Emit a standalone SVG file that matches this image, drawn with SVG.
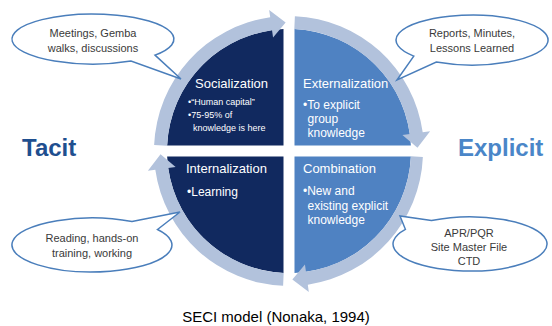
<svg xmlns="http://www.w3.org/2000/svg" width="552" height="326" viewBox="0 0 552 326">
<style>
  text { font-family: "Liberation Sans", Arial, sans-serif; }
  .dark { fill: #11295f; }
  .light { fill: #4f82c2; }
  .ring { fill: #b2c2dc; }
  .title { fill: #ffffff; font-size: 13px; }
  .body { fill: #ffffff; font-size: 12px; }
  .small { fill: #ffffff; font-size: 9px; }
  .callout { fill: #ffffff; stroke: #4a7ebb; stroke-width: 1.5; stroke-linejoin: miter; }
  .ctext { fill: #3a3a3a; font-size: 11px; text-anchor: middle; }
  .side { font-size: 24px; font-weight: bold; }
</style>
<rect width="552" height="326" fill="#ffffff"/>

<g id="socialization">
  <path class="dark" d="M283.5 145.5 L283.5 29.124 A122 122 0 0 0 167.124 145.5 Z"/>
  <text class="title" x="195" y="88">Socialization</text>
  <text class="small" x="188" y="105">•“Human capital”</text>
  <text class="small" x="188" y="118">•75-95% of</text>
  <text class="small" x="193" y="131">knowledge is here</text>
</g>

<g id="externalization">
  <path class="light" d="M294.5 145.5 L410.876 145.5 A122 122 0 0 0 294.5 29.124 Z"/>
  <text class="title" x="303" y="88">Externalization</text>
  <text class="body" x="303" y="109">•To explicit</text>
  <text class="body" x="307.5" y="123">group</text>
  <text class="body" x="307.5" y="137">knowledge</text>
</g>

<g id="combination">
  <path class="light" d="M294.5 156.5 L294.5 272.876 A122 122 0 0 0 410.876 156.5 Z"/>
  <text class="title" x="303" y="173">Combination</text>
  <text class="body" x="303" y="195">•New and</text>
  <text class="body" x="307.5" y="210">existing explicit</text>
  <text class="body" x="307.5" y="224">knowledge</text>
</g>

<g id="internalization">
  <path class="dark" d="M283.5 156.5 L167.124 156.5 A122 122 0 0 0 283.5 272.876 Z"/>
  <text class="title" x="186" y="173">Internalization</text>
  <text class="body" x="187" y="196">•Learning</text>
</g>

<g id="connectors">
  <path class="ring" d="M154.13 145.11 A135 135 0 0 1 270.21 17.31 L269.17 9.89 L285.64 22.54 L273.06 37.61 L272.02 30.19 A122 122 0 0 0 167.12 145.68 Z"/>
  <path class="ring" d="M294.89 16.13 A135 135 0 0 1 422.69 132.21 L430.11 131.17 L417.46 147.64 L402.39 135.06 L409.81 134.02 A122 122 0 0 0 294.32 29.12 Z"/>
  <path class="ring" d="M422.87 156.89 A135 135 0 0 1 307.79 284.69 L308.83 292.11 L292.36 279.46 L304.94 264.39 L305.98 271.81 A122 122 0 0 0 410.88 156.32 Z"/>
  <path class="ring" d="M283.11 285.87 A135 135 0 0 1 155.31 169.79 L147.89 170.83 L160.54 154.36 L175.61 166.94 L168.19 167.98 A122 122 0 0 0 283.68 272.88 Z"/>
</g>

<g id="tacit">
  <text class="side" x="22" y="156" fill="#1f4f8f">Tacit</text>
</g>
<g id="explicit">
  <text class="side" x="458" y="156" fill="#4a86c8">Explicit</text>
</g>

<g id="callout-socialization">
  <path class="callout" d="M155 55.1 L181 79 L131 61.1 A81 25 0 1 1 155 55.1 Z"/>
  <text class="ctext" x="93" y="37">Meetings, Gemba</text>
  <text class="ctext" x="93" y="52">walks, discussions</text>
</g>

<g id="callout-externalization">
  <path class="callout" d="M413.8 56.1 L397 80 L436.3 62.1 A76 25 0 1 0 413.8 56.1 Z"/>
  <text class="ctext" x="472" y="37">Reports, Minutes,</text>
  <text class="ctext" x="472" y="52">Lessons Learned</text>
</g>

<g id="callout-internalization">
  <path class="callout" d="M132 221.6 L180 212 L157.5 229.5 A80 27 0 1 1 132 221.6 Z"/>
  <text class="ctext" x="92" y="242">Reading, hands-on</text>
  <text class="ctext" x="92" y="257">training, working</text>
</g>

<g id="callout-combination">
  <path class="callout" d="M431.5 220.6 L400 216 L405.4 229.3 A77 27 0 1 0 431.5 220.6 Z"/>
  <text class="ctext" x="469" y="237">APR/PQR</text>
  <text class="ctext" x="469" y="251">Site Master File</text>
  <text class="ctext" x="469" y="265">CTD</text>
</g>

<g id="caption">
  <text x="276" y="322" font-size="15" fill="#000000" text-anchor="middle">SECI model (Nonaka, 1994)</text>
</g>
</svg>
